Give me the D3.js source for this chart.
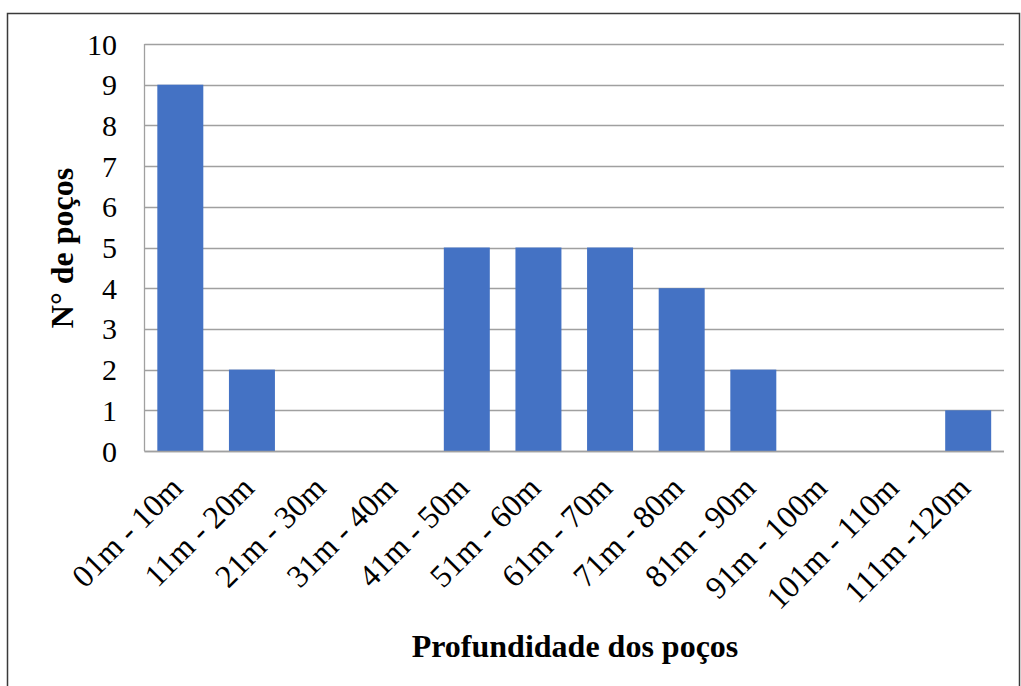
<!DOCTYPE html>
<html>
<head>
<meta charset="utf-8">
<script src="https://cdn.jsdelivr.net/npm/d3@7"></script>
<style>
  html, body { margin: 0; padding: 0; background: #fff; }
  svg { display: block; }
  text { font-family: "Liberation Serif", "Times New Roman", serif; fill: #000; }
</style>
</head>
<body>
<svg id="chart" width="1021" height="686"></svg>
<script>
const categories = ["01m - 10m", "11m - 20m", "21m - 30m", "31m - 40m", "41m - 50m", "51m - 60m",
                    "61m - 70m", "71m - 80m", "81m - 90m", "91m - 100m", "101m - 110m", "111m -120m"];
const values = [9, 2, 0, 0, 5, 5, 5, 4, 2, 0, 0, 1];
const yTicks = [0, 1, 2, 3, 4, 5, 6, 7, 8, 9, 10];
const xTitle = "Profundidade dos poços";
const yTitle = "N° de poços";

const svg = d3.select("#chart");
const plot = { left: 144.5, right: 1004, top: 44, bottom: 451 };

// outer border
svg.append("rect")
  .attr("x", 7.5).attr("y", 13.5)
  .attr("width", 1012).attr("height", 700)
  .attr("fill", "none").attr("stroke", "#3a3a3a").attr("stroke-width", 1.5);

const x = d3.scaleBand().domain(categories)
  .range([plot.left, plot.right]).paddingInner(0.358).paddingOuter(0.179);
const y = d3.scaleLinear().domain([0, 10]).range([plot.bottom, plot.top]);

// gridlines
svg.append("g").selectAll("line").data(yTicks).join("line")
  .attr("x1", plot.left).attr("x2", plot.right)
  .attr("y1", d => Math.round(y(d)) + 0.5).attr("y2", d => Math.round(y(d)) + 0.5)
  .attr("stroke", "#a0a0a0").attr("stroke-width", 1.3);

// left axis line
svg.append("line")
  .attr("x1", plot.left).attr("x2", plot.left)
  .attr("y1", y(10)).attr("y2", y(0))
  .attr("stroke", "#a0a0a0").attr("stroke-width", 1.3);

// bars
svg.append("g").selectAll("rect").data(values).join("rect")
  .attr("x", (d, i) => x(categories[i]))
  .attr("width", x.bandwidth())
  .attr("y", d => y(d))
  .attr("height", d => y(0) - y(d))
  .attr("fill", "#4472C4");

// redraw baseline over bars
svg.append("line")
  .attr("x1", plot.left).attr("x2", plot.right)
  .attr("y1", Math.round(y(0)) + 0.5).attr("y2", Math.round(y(0)) + 0.5)
  .attr("stroke", "#a0a0a0").attr("stroke-width", 1.3);

// y tick labels
svg.append("g").selectAll("text").data(yTicks).join("text")
  .attr("x", 117).attr("y", d => y(d))
  .attr("dy", "0.35em")
  .attr("text-anchor", "end")
  .style("font-size", "30px")
  .text(d => d);

// x tick labels (rotated -45)
svg.append("g").selectAll("text").data(categories).join("text")
  .attr("transform", d => `translate(${x(d) + x.bandwidth() / 2 - 4},${482}) rotate(-45)`)
  .attr("text-anchor", "end")
  .attr("dy", "0.35em")
  .style("font-size", "32px")
  .text(d => d);

// axis titles
svg.append("text")
  .attr("x", 575).attr("y", 657)
  .attr("text-anchor", "middle")
  .style("font-size", "32px").style("font-weight", "bold")
  .text(xTitle);

svg.append("text")
  .attr("transform", `translate(73,248) rotate(-90)`)
  .attr("text-anchor", "middle")
  .style("font-size", "32px").style("font-weight", "bold")
  .text(yTitle);
</script>
</body>
</html>
